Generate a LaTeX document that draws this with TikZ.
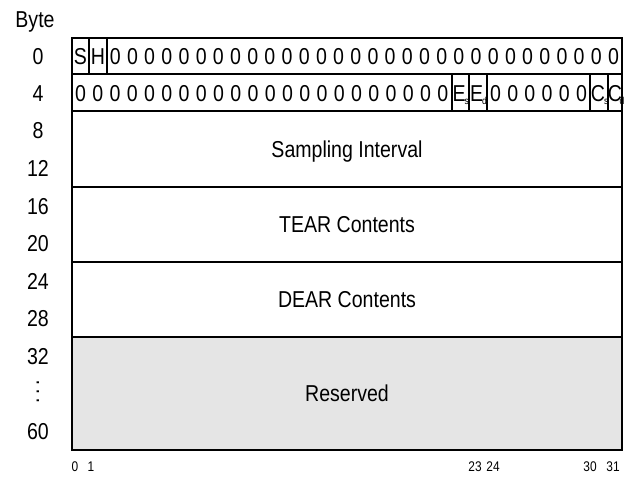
\documentclass[tikz,border=0pt]{standalone}
\usepackage{fontspec}
\setmainfont[FakeStretch=0.85]{Liberation Sans}
% a flag letter with its small subscript, set tight
\newcommand{\flagbit}[3][-0.8pt]{#2\kern#1\raisebox{-3pt}{\fontsize{10}{10}\selectfont #3}}
\begin{document}
\begin{tikzpicture}[x=1pt,y=-1pt,
  rule/.style={line width=2pt},
  celltext/.style={anchor=base,inner sep=0pt,font=\fontsize{23}{23}\selectfont},
  bytelbl/.style={anchor=base,inner sep=0pt,font=\fontsize{23}{23}\selectfont},
  bitlbl/.style={anchor=base,inner sep=0pt,font=\fontsize{14}{14}\selectfont}]
\useasboundingbox (0,0) rectangle (626,477);

% reserved area shading
\fill[black!10] (72,337) rectangle (622,450);

% register frame and row rules
\draw[rule] (72,38) rectangle (622,450);
\foreach \yy in {74,111,187,262,337}
  \draw[rule] (72,\yy) -- (622,\yy);

% row 0 bit dividers
\foreach \xx in {89,106.7}
  \draw[rule] (\xx,38) -- (\xx,74);
% row 1 bit dividers
\foreach \xx in {451.5,469,487,590,607.5}
  \draw[rule] (\xx,74) -- (\xx,111);

% row 0 contents
\node[celltext] (s) at (80.5,64) {S};
\node[celltext] (h) at (98,64) {H};
\foreach \k in {0,...,29}
  \node[celltext] (z0-\k) at ({106.7+(\k+0.5)*17.18},64) {0};

% row 1 contents
\foreach \k in {0,...,21}
  \node[celltext] (z1a-\k) at ({72+(\k+0.5)*17.25},101) {0};
\foreach \k in {0,...,5}
  \node[celltext] (z1b-\k) at ({487+(\k+0.5)*17.17},101) {0};
\node[celltext,anchor=base west] (es) at (452.3,101) {\flagbit{E}{s}};
\node[celltext,anchor=base west] (ed) at (469.8,101) {\flagbit{E}{d}};
\node[celltext,anchor=base west] (cs) at (590.6,101) {\flagbit{C}{s}};
\node[celltext,anchor=base west] (cd) at (607.6,101) {\flagbit[-2.2pt]{C}{d}};

% field names
\node[celltext] (samp) at (347,157) {Sampling Interval};
\node[celltext] (tear) at (347,232.5) {TEAR Contents};
\node[celltext] (dear) at (347,307.5) {DEAR Contents};
\node[celltext] (resv) at (347,401.5) {Reserved};

% byte offsets
\node[bytelbl] (byte) at (35,27) {Byte};
\foreach \lbl/\yy in {0/64,4/101,8/138,12/176,16/214,20/251,24/289,28/326,32/364,60/439}
  \node[bytelbl] (b\lbl) at (38,\yy) {\lbl};
\node[inner sep=0pt,rotate=90,font=\fontsize{23}{23}\selectfont] (bdots) at (38,392)
  {.\hspace{3.5pt}.\hspace{3.5pt}.};

% bit numbers
\foreach \lbl/\xx in {0/75,1/91,23/475,24/493,30/590,31/613}
  \node[bitlbl] (bit\lbl) at (\xx,471) {\lbl};
\end{tikzpicture}
\end{document}
